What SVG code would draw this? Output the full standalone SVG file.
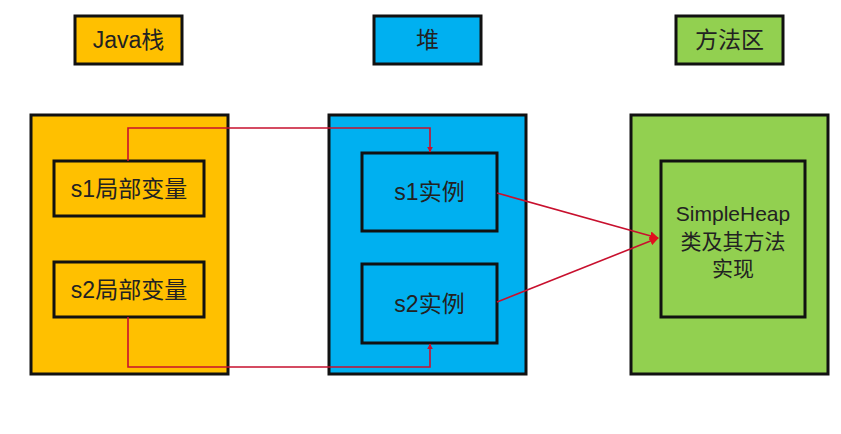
<svg xmlns="http://www.w3.org/2000/svg" width="841" height="434" viewBox="0 0 841 434">
<style>
.b{stroke:#111;stroke-width:3}
.o{fill:#FFC000}.u{fill:#00B0F0}.g{fill:#92D050}
.t{font-family:"Liberation Sans","Noto Sans CJK SC",sans-serif;font-size:23px;fill:#222;text-anchor:middle;dominant-baseline:central}
.s{font-size:21px}
.c{fill:none;stroke:#C8102E;stroke-width:1.6}
</style>
<defs>
<marker id="a" viewBox="0 0 10 10" refX="9" refY="5" markerWidth="6" markerHeight="6" orient="auto-start-reverse" markerUnits="userSpaceOnUse">
<path d="M0,0L10,5L0,10z" fill="#C8102E"/>
</marker>
<marker id="a2" viewBox="0 0 10 10" refX="9" refY="5" markerWidth="9" markerHeight="9" orient="auto" markerUnits="userSpaceOnUse">
<path d="M0,0L10,5L0,10z" fill="#E0101E"/>
</marker>
</defs>
<g id="java-stack-label"><rect class="b o" x="75" y="16" width="107" height="48"/><text class="t" x="128.5" y="40">Java栈</text></g>
<g id="heap-label"><rect class="b u" x="374" y="16" width="107" height="48"/><text class="t" x="427.5" y="40">堆</text></g>
<g id="method-label"><rect class="b g" x="676" y="16" width="107" height="48"/><text class="t" x="729.5" y="40">方法区</text></g>
<g id="java-stack"><rect class="b o" x="31" y="115" width="197" height="259"/></g>
<g id="heap"><rect class="b u" x="329" y="115" width="197" height="259"/></g>
<g id="method-area"><rect class="b g" x="631" y="115" width="197" height="259"/></g>
<g id="s1-local"><rect class="b o" x="54" y="161" width="150" height="55"/><text class="t" x="129" y="188.5">s1局部变量</text></g>
<g id="s2-local"><rect class="b o" x="54" y="262" width="150" height="55"/><text class="t" x="129" y="289.5">s2局部变量</text></g>
<g id="s1-instance"><rect class="b u" x="362" y="153" width="135" height="78"/><text class="t" x="429.5" y="192">s1实例</text></g>
<g id="s2-instance"><rect class="b u" x="362" y="264" width="135" height="79"/><text class="t" x="429.5" y="303.5">s2实例</text></g>
<g id="simpleheap-class"><rect class="b g" x="661" y="161" width="144" height="156"/>
<text class="t s" x="733" y="213">SimpleHeap</text><text class="t s" x="733" y="241">类及其方法</text><text class="t s" x="733" y="268">实现</text></g>
<g id="connectors">
<path class="c" d="M128,161V128H430V152" marker-end="url(#a)"/>
<path class="c" d="M128,317V367H430V344" marker-end="url(#a)"/>
<path class="c" d="M497,193L658,238" marker-end="url(#a2)"/>
<path class="c" d="M497,302L658,238" marker-end="url(#a2)"/>
</g>
</svg>
